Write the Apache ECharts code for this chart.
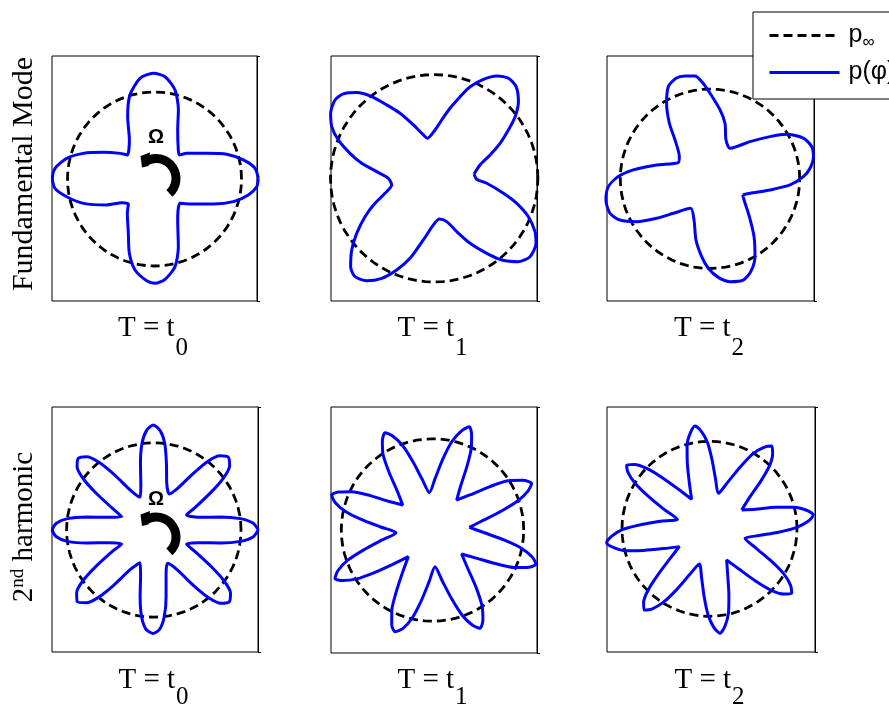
<!DOCTYPE html>
<html>
<head>
<meta charset="utf-8">
<script src="https://cdn.jsdelivr.net/npm/echarts@6/dist/echarts.min.js"></script>
<style>
  html, body { margin: 0; padding: 0; background: #fff; }
  #chart { width: 889px; height: 705px; }
</style>
</head>
<body>
<div id="chart"></div>
<script>
// Free-stream reference pressure (all curves are scaled by it)
const P_INF = 1;

// Series names shown in the legend
const NAME_INF = 'p∞';
const NAME_P = 'p(φ)';

// Row and column labels
const rowLabels = ['Fundamental Mode', '2nd harmonic'];
const timeLabels = ['0', '1', '2'];

// p(φ) samples: φ in degrees (counter-clockwise from +x), p in units of p∞
// Fundamental mode, T = t0
const phiFund0 = [0.4, 6.1, 12.1, 18.9, 26.2, 38.6, 44, 50.6, 64.7, 70.9, 77, 84.1, 90.6, 98.2, 106.3, 113.3, 122.8, 138.5, 143.4, 152.5, 160.2, 166.8, 173.9, 179.6, 185.4, 191.4, 198.9, 208.5, 215.8, 223.7, 231.6, 244.3, 251.3, 257.9, 265.6, 270.3, 276, 283.2, 289.4, 299.5, 316.3, 324.8, 337, 344, 350.3, 355.7, 0.4];
const pFund0 = [1.193, 1.162, 1.044, 0.877, 0.668, 0.473, 0.397, 0.431, 0.623, 0.839, 1.050, 1.182, 1.215, 1.169, 1.006, 0.780, 0.533, 0.417, 0.494, 0.663, 0.870, 1.037, 1.150, 1.174, 1.149, 1.030, 0.864, 0.626, 0.465, 0.416, 0.503, 0.693, 0.902, 1.070, 1.172, 1.199, 1.159, 1.035, 0.825, 0.541, 0.405, 0.499, 0.735, 0.943, 1.094, 1.178, 1.193];

// Fundamental mode, T = t1
const phiFund1 = [6.2, 16.2, 22.7, 28, 33.1, 37.3, 42.3, 48.2, 53.4, 58.6, 63.6, 68.6, 72.4, 77.3, 82.7, 89, 99.7, 104, 111.3, 117.7, 122.9, 127.4, 132.1, 137.1, 141.7, 147.9, 153.2, 158.2, 163.5, 168.3, 173.4, 180, 188.9, 197, 202.9, 209, 215.4, 221, 226.6, 231.2, 236.6, 242.3, 247.7, 253.2, 260, 269, 277.2, 286.1, 292.9, 298.9, 305, 309.6, 315.3, 320.7, 327.4, 332.1, 337.8, 343.1, 347.8, 354.6, 358.7, 6.2];
const pFund1 = [0.387, 0.460, 0.584, 0.719, 0.854, 0.981, 1.098, 1.185, 1.201, 1.157, 1.066, 0.949, 0.826, 0.692, 0.567, 0.466, 0.391, 0.431, 0.552, 0.708, 0.843, 0.992, 1.114, 1.196, 1.219, 1.179, 1.107, 0.996, 0.847, 0.714, 0.558, 0.442, 0.415, 0.496, 0.620, 0.763, 0.917, 1.054, 1.173, 1.218, 1.183, 1.089, 0.955, 0.806, 0.604, 0.450, 0.395, 0.435, 0.558, 0.716, 0.883, 1.022, 1.143, 1.194, 1.165, 1.100, 0.981, 0.832, 0.683, 0.509, 0.410, 0.387];

// Fundamental mode, T = t2
const phiFund2 = [333.7, 340.1, 349.5, 355.6, 1.3, 6, 12.1, 17.6, 23.5, 30.1, 35.1, 42.9, 56.7, 67.6, 74.9, 81.7, 90, 94.9, 98.3, 103.7, 108.7, 114.3, 119.9, 126.2, 132, 144.1, 152.9, 165.5, 173.4, 178.6, 184.4, 191.5, 199, 204.6, 210.3, 216.5, 223.3, 236.8, 248.8, 257.1, 263.9, 268.9, 274.8, 281, 288.2, 293.7, 300, 307.3, 316.1, 328.1, 333.7];
const pFund2 = [0.406, 0.475, 0.681, 0.895, 1.041, 1.121, 1.179, 1.189, 1.135, 0.989, 0.818, 0.609, 0.407, 0.468, 0.641, 0.776, 0.954, 1.088, 1.159, 1.180, 1.183, 1.128, 0.971, 0.767, 0.583, 0.422, 0.397, 0.614, 0.861, 1.023, 1.137, 1.184, 1.180, 1.104, 0.947, 0.740, 0.561, 0.393, 0.493, 0.700, 0.873, 0.998, 1.103, 1.168, 1.188, 1.130, 1.003, 0.810, 0.609, 0.447, 0.406];

// 2nd harmonic, T = t0
const phiHarm0 = [0, 4, 7.5, 11, 16, 24.6, 28.3, 33.3, 36.8, 40.3, 44.3, 48.3, 51.8, 55.3, 60.3, 66.7, 74.3, 79.3, 82.8, 86.3, 90.3, 94.3, 97.8, 101.3, 106.3, 113, 120.5, 125.5, 129, 132.5, 136.5, 140.5, 144, 147.5, 152.5, 157.5, 164, 169, 172.5, 176, 180, 184, 187.5, 191, 196, 203.5, 207.1, 212.1, 215.6, 219.1, 223.1, 227.1, 230.6, 234.1, 239.1, 247, 253.4, 258.4, 261.9, 265.4, 269.4, 273.4, 276.9, 280.4, 285.4, 292.5, 300.5, 305.5, 309, 312.5, 316.5, 320.5, 324, 327.5, 332.5, 336.9, 344, 349, 352.5, 356, 0];
const pHarm0 = [1.199, 1.14, 1.0, 0.78, 0.53, 0.414, 0.53, 0.78, 1.0, 1.14, 1.194, 1.14, 1.0, 0.78, 0.55, 0.45, 0.55, 0.78, 1.0, 1.14, 1.205, 1.14, 1.0, 0.78, 0.53, 0.407, 0.53, 0.78, 1.0, 1.14, 1.194, 1.14, 1.0, 0.78, 0.53, 0.40, 0.53, 0.78, 1.0, 1.12, 1.164, 1.12, 1.0, 0.78, 0.53, 0.402, 0.53, 0.78, 1.0, 1.14, 1.203, 1.14, 1.0, 0.78, 0.53, 0.407, 0.53, 0.78, 1.0, 1.14, 1.186, 1.14, 1.0, 0.78, 0.53, 0.414, 0.53, 0.78, 1.0, 1.14, 1.194, 1.14, 1.0, 0.78, 0.53, 0.41, 0.53, 0.78, 1.0, 1.14, 1.199];

// 2nd harmonic, T = t1
const phiHarm1 = [4.1, 10.9, 15.5, 18.9, 22.2, 25.2, 28.8, 33.0, 37.1, 42.8, 51.1, 57.3, 61.5, 64.6, 67.7, 70.4, 73.8, 77.7, 81.6, 87.0, 94.8, 101.6, 106.2, 109.6, 113, 116, 119.4, 123.2, 127, 132.3, 140, 146.7, 151.3, 154.6, 158, 160.9, 164.2, 167.9, 171.6, 176.7, 184.2, 191.3, 196.2, 199.7, 203.3, 206.4, 209.4, 212.8, 216.2, 221, 227.8, 234.8, 239.7, 243.2, 246.7, 249.8, 253.2, 257, 260.9, 266.2, 273.9, 280.9, 285.7, 289.2, 292.7, 295.8, 299.3, 303.2, 307.2, 312.6, 320.5, 327.3, 332, 335.4, 338.8, 341.8, 344.9, 348.5, 352.1, 357, 4.1];
const pHarm1 = [0.405, 0.57, 0.79, 0.99, 1.13, 1.201, 1.13, 0.99, 0.79, 0.57, 0.422, 0.57, 0.79, 0.99, 1.13, 1.202, 1.13, 0.99, 0.79, 0.57, 0.411, 0.57, 0.79, 0.99, 1.12, 1.187, 1.12, 0.99, 0.79, 0.57, 0.427, 0.57, 0.79, 0.98, 1.11, 1.17, 1.11, 0.98, 0.79, 0.57, 0.401, 0.57, 0.79, 0.99, 1.13, 1.193, 1.13, 0.99, 0.79, 0.57, 0.394, 0.57, 0.79, 0.99, 1.13, 1.188, 1.13, 0.99, 0.79, 0.57, 0.403, 0.57, 0.79, 0.99, 1.13, 1.197, 1.13, 0.99, 0.79, 0.57, 0.414, 0.57, 0.79, 0.99, 1.13, 1.194, 1.13, 0.99, 0.79, 0.57, 0.405];

// 2nd harmonic, T = t2
const phiHarm2 = [30.4, 37.7, 42.7, 46.3, 49.9, 53.1, 56.3, 60, 63.6, 68.7, 76, 83, 87.9, 91.4, 94.9, 98, 101.2, 105, 108.7, 113.8, 121.2, 128, 132.6, 136, 139.4, 142.4, 145.4, 148.7, 152.1, 156.7, 163.5, 171.2, 176.6, 180.4, 184.3, 187.7, 190.9, 194.6, 198.2, 203.3, 210.6, 217.2, 221.7, 224.9, 228.2, 231.1, 234.3, 237.9, 241.6, 246.6, 253.9, 260.9, 265.7, 269.2, 272.6, 275.7, 278.9, 282.6, 286.3, 291.4, 298.8, 306.2, 311.3, 315, 318.7, 321.9, 325.1, 328.8, 332.5, 337.6, 345, 352.2, 357.2, 0.8, 4.4, 7.6, 10.8, 14.4, 18.1, 23.1, 30.4];
const pHarm2 = [0.426, 0.57, 0.79, 0.99, 1.12, 1.184, 1.12, 0.99, 0.79, 0.57, 0.418, 0.57, 0.79, 0.99, 1.12, 1.187, 1.12, 0.99, 0.79, 0.57, 0.394, 0.57, 0.79, 0.99, 1.13, 1.195, 1.13, 0.99, 0.79, 0.57, 0.383, 0.57, 0.79, 0.99, 1.12, 1.186, 1.12, 0.99, 0.79, 0.57, 0.40, 0.57, 0.79, 0.99, 1.13, 1.192, 1.13, 0.99, 0.79, 0.57, 0.418, 0.57, 0.79, 0.99, 1.13, 1.2, 1.13, 0.99, 0.79, 0.57, 0.407, 0.57, 0.79, 0.99, 1.13, 1.194, 1.13, 0.99, 0.79, 0.57, 0.42, 0.57, 0.79, 0.99, 1.13, 1.197, 1.13, 0.99, 0.79, 0.57, 0.426];

const curves = [
  { phi: phiFund0, p: pFund0 },
  { phi: phiFund1, p: pFund1 },
  { phi: phiFund2, p: pFund2 },
  { phi: phiHarm0, p: pHarm0 },
  { phi: phiHarm1, p: pHarm1 },
  { phi: phiHarm2, p: pHarm2 }
];

// ---- layout (pixels) ----
// box: [left, top, width, height]; c: polar centre; r: pixels per p∞
const panels = [
  { box: [52, 56, 205, 245],  c: [154.5, 179],   r: 87 },
  { box: [331, 56, 206, 245], c: [434.2, 178.3], r: 103.7 },
  { box: [607, 56, 207, 245], c: [710, 178.8],   r: 89.7 },
  { box: [52, 407, 206, 245], c: [153.8, 530],   r: 87.2 },
  { box: [331, 407, 206, 246], c: [432.5, 530],  r: 91.2 },
  { box: [607, 407, 208, 245], c: [709.5, 528.8], r: 87.5 }
];
const RMAX = 1.3;
const SERIF = '"Liberation Serif", "Times New Roman", serif';
const SANS = '"Liberation Sans", Arial, sans-serif';
const BLUE = '#0000ff';

// angles used to trace the constant p∞ ring
const ringAngles = [];
for (let a = 0; a <= 360; a += 5) ringAngles.push(a);

const measureCtx = document.createElement('canvas').getContext('2d');
function textWidth(str, font) {
  measureCtx.font = font;
  return measureCtx.measureText(str).width;
}

const series = [];
panels.forEach((pl, i) => {
  series.push({
    type: 'line',
    name: NAME_INF,
    coordinateSystem: 'polar',
    polarIndex: i,
    data: ringAngles.map(a => [P_INF, a]),
    symbol: 'none',
    clip: false,
    silent: true,
    itemStyle: { color: '#000' },
    lineStyle: { color: '#000', width: 2.8, type: [9, 5] },
    z: 2
  });
  series.push({
    type: 'line',
    name: NAME_P,
    coordinateSystem: 'polar',
    polarIndex: i,
    data: curves[i].phi.map((a, k) => [curves[i].p[k], a]),
    symbol: 'none',
    smooth: 0.25,
    clip: false,
    silent: true,
    itemStyle: { color: BLUE },
    lineStyle: { color: BLUE, width: 3 },
    z: 3
  });
});

// ---- text annotations ----
const graphics = [];
const MAIN_FONT = '29px ' + SERIF;
const SUB_FONT = '25px ' + SERIF;
const mainText = 'T = t';
panels.forEach((pl, i) => {
  const sub = timeLabels[i % 3];
  const wm = textWidth(mainText, MAIN_FONT);
  const ws = textWidth(sub, SUB_FONT);
  const gap = 1;
  const total = wm + gap + ws;
  const cx = pl.box[0] + pl.box[2] / 2 - 1.5;
  const left = cx - total / 2;
  const yMain = i < 3 ? 328 : 680;
  const ySub = i < 3 ? 348.5 : 697;
  graphics.push({
    type: 'text', x: left, y: yMain, z: 10,
    style: { text: mainText, font: MAIN_FONT, fill: '#000', textAlign: 'left', textVerticalAlign: 'middle' }
  });
  graphics.push({
    type: 'text', x: left + wm + gap, y: ySub, z: 10,
    style: { text: sub, font: SUB_FONT, fill: '#000', textAlign: 'left', textVerticalAlign: 'middle' }
  });
});

// row label: fundamental mode (reads bottom to top)
graphics.push({
  type: 'text', x: 24, y: 174, rotation: Math.PI / 2, z: 10,
  style: { text: rowLabels[0], font: '30px ' + SERIF, fill: '#000', textAlign: 'center', textVerticalAlign: 'middle' }
});

// row label: 2nd harmonic, with superscript ordinal
(function () {
  const big = '29px ' + SERIF, small = '19px ' + SERIF;
  const head = rowLabels[1].slice(0, 1);        // "2"
  const sup = rowLabels[1].slice(1, 3);         // "nd"
  const tail = rowLabels[1].slice(3);           // " harmonic"
  const w1 = textWidth(head, big), w2 = textWidth(sup, small), w3 = textWidth(tail, big);
  const start = -(w1 + w2 + w3) / 2;
  graphics.push({
    type: 'group', x: 24, y: 527, rotation: Math.PI / 2, z: 10,
    children: [
      { type: 'text', x: start, y: 0, style: { text: head, font: big, fill: '#000', textAlign: 'left', textVerticalAlign: 'middle' } },
      { type: 'text', x: start + w1, y: -5.5, style: { text: sup, font: small, fill: '#000', textAlign: 'left', textVerticalAlign: 'middle' } },
      { type: 'text', x: start + w1 + w2, y: 0, style: { text: tail, font: big, fill: '#000', textAlign: 'left', textVerticalAlign: 'middle' } }
    ]
  });
})();

// rotation marker (Ω with a curved arrow) in the t0 panels
[[156, 178.5, 137], [156, 537, 499]].forEach(([ax, ay, ty]) => {
  graphics.push({
    type: 'text', x: ax, y: ty, z: 10,
    style: { text: 'Ω', font: 'bold 20px ' + SANS, fill: '#000', textAlign: 'center', textVerticalAlign: 'middle' }
  });
  graphics.push({
    type: 'arc', z: 10,
    shape: { cx: ax, cy: ay, r: 20, startAngle: 237 * Math.PI / 180, endAngle: 408 * Math.PI / 180, clockwise: true },
    style: { stroke: '#000', lineWidth: 9, fill: null, lineCap: 'butt' }
  });
  graphics.push({
    type: 'polygon', z: 10,
    shape: { points: [[ax - 15.5, ay - 22.5], [ax - 6, ay - 26], [ax - 7.5, ay - 12.5], [ax - 14, ay - 11]] },
    style: { fill: '#000' }
  });
});

const chart = echarts.init(document.getElementById('chart'), null, { renderer: 'canvas' });
chart.setOption({
  animation: false,
  backgroundColor: '#fff',
  grid: panels.map(pl => ({
    left: pl.box[0], top: pl.box[1], width: pl.box[2], height: pl.box[3],
    show: true, borderColor: '#000', borderWidth: 1, backgroundColor: 'transparent'
  })),
  xAxis: panels.map((pl, i) => ({ gridIndex: i, type: 'value', show: false })),
  yAxis: panels.map((pl, i) => ({
    gridIndex: i, type: 'value', position: 'right', min: 0, max: 1, interval: 1,
    axisLine: { show: true, onZero: false, lineStyle: { color: '#000', width: 1 } },
    axisTick: { show: true, inside: false, length: 3, lineStyle: { color: '#000', width: 1 } },
    axisLabel: { show: false },
    splitLine: { show: false }
  })),
  polar: panels.map(pl => ({ center: pl.c, radius: RMAX * pl.r })),
  angleAxis: panels.map((pl, i) => ({
    polarIndex: i, type: 'value', min: 0, max: 360, startAngle: 0, clockwise: false, show: false
  })),
  radiusAxis: panels.map((pl, i) => ({
    polarIndex: i, type: 'value', min: 0, max: RMAX, show: false
  })),
  legend: {
    data: [NAME_INF, NAME_P],
    orient: 'vertical',
    left: 753, top: 12,
    itemWidth: 70, itemHeight: 30, itemGap: 9,
    padding: [11, 60, 14, 15],
    borderColor: '#000', borderWidth: 1, borderRadius: 0,
    backgroundColor: '#fff',
    selectedMode: false,
    itemStyle: { opacity: 0 },
    lineStyle: { width: 3 },
    textStyle: {
      fontFamily: SANS, fontSize: 25, color: '#000', padding: [0, 0, 0, 4],
      rich: { sub: { fontFamily: SANS, fontSize: 17, color: '#000', padding: [14, 0, 0, 0] } }
    },
    formatter: name => name === NAME_INF ? 'p{sub|∞}' : name
  },
  graphic: { elements: graphics },
  series: series
});
</script>
</body>
</html>
